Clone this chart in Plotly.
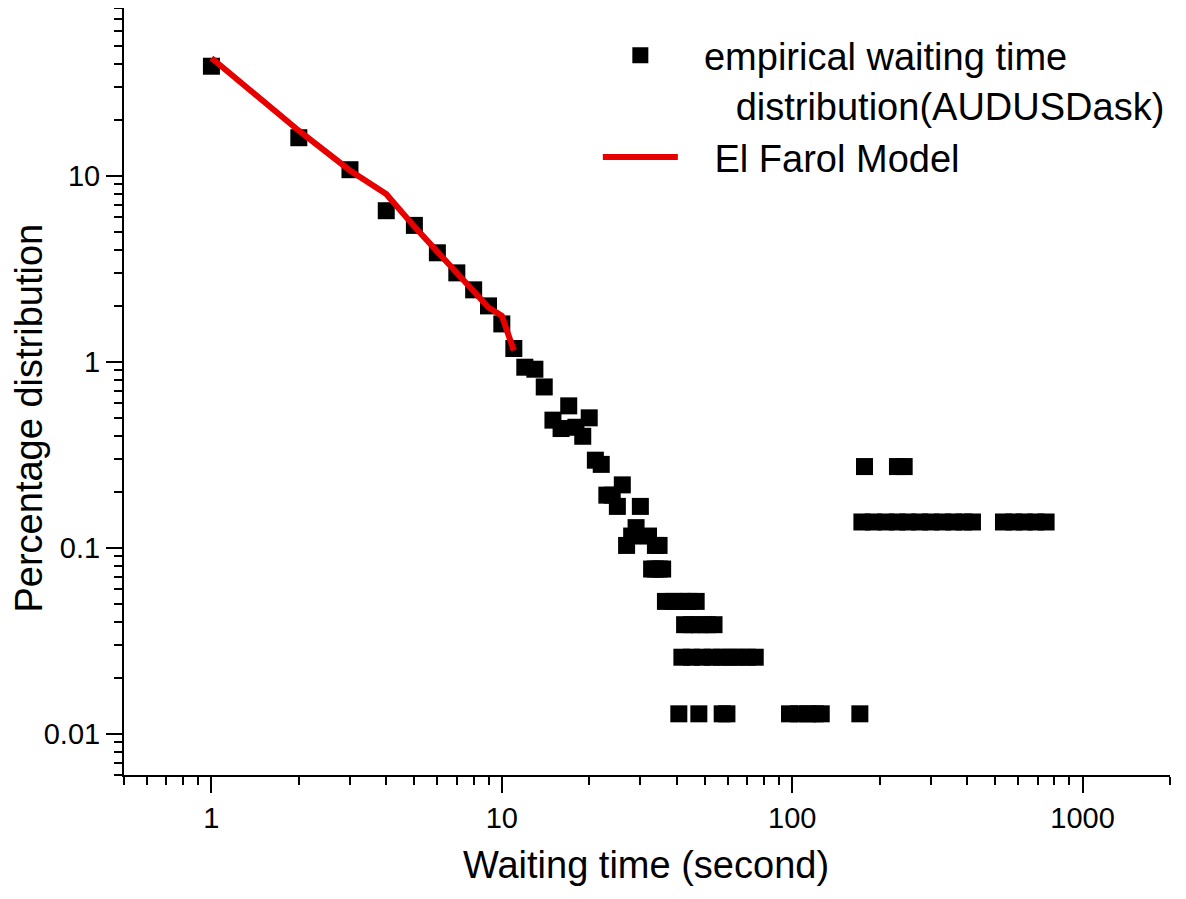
import plotly.graph_objects as go

# ---- data ----
emp_time = [1, 2, 3, 4, 5, 6, 7, 8, 9, 10, 11, 12, 13, 14, 15, 16, 17, 18, 19, 20,
            21, 22, 23, 24, 25, 26, 26.9, 28, 29, 30, 32, 33.8, 34.8,
            32.8, 33.8, 34.8, 35.8,
            36.6, 39, 42, 44, 46.7,
            42.6, 45, 48, 51, 53.8,
            41.7, 45, 49, 53, 57, 61, 65, 70, 74.6,
            40.7, 47.7, 57.4, 59.6, 97.9, 105, 113, 120, 125.9, 171,
            177.4, 230.4, 243,
            173.8, 190, 210, 230, 250, 275, 300, 330, 360, 390, 417.6,
            534, 580, 630, 690, 748.8]
emp_pct = [38.9, 16.05, 10.8, 6.5, 5.42, 3.86, 3.01, 2.44, 2.0, 1.6, 1.18, 0.936, 0.913, 0.733,
           0.486, 0.438, 0.58, 0.445, 0.398, 0.50,
           0.296, 0.281, 0.192, 0.192, 0.167, 0.218, 0.103, 0.1157, 0.1284, 0.167, 0.1157, 0.103, 0.103,
           0.0769, 0.0769, 0.0769, 0.0769,
           0.0515, 0.0515, 0.0515, 0.0515, 0.0515,
           0.0386, 0.0386, 0.0386, 0.0386, 0.0386,
           0.0258, 0.0258, 0.0258, 0.0258, 0.0258, 0.0258, 0.0258, 0.0258, 0.0258,
           0.0128, 0.0128, 0.0128, 0.0128, 0.0128, 0.0128, 0.0128, 0.0128, 0.0128, 0.0128,
           0.2735, 0.2735, 0.2735,
           0.1377, 0.1377, 0.1377, 0.1377, 0.1377, 0.1377, 0.1377, 0.1377, 0.1377, 0.1377, 0.1377,
           0.1377, 0.1377, 0.1377, 0.1377, 0.1377]

model_time = [1, 2, 3, 4, 5, 6, 7, 8, 9, 10, 11]
model_pct = [43.1, 17.5, 10.7, 8.0, 5.34, 3.88, 2.97, 2.35, 1.96, 1.77, 1.15]

x_major = [1, 10, 100, 1000]
x_major_text = ["1", "10", "100", "1000"]
y_major = [0.01, 0.1, 1, 10]
y_major_text = ["0.01", "0.1", "1", "10"]
x_minor = [0.5, 0.6, 0.7, 0.8, 0.9, 2, 3, 4, 5, 6, 7, 8, 9, 20, 30, 40, 50, 60, 70, 80, 90,
           200, 300, 400, 500, 600, 700, 800, 900, 2000]
y_minor = [0.006, 0.007, 0.008, 0.009, 0.02, 0.03, 0.04, 0.05, 0.06, 0.07, 0.08, 0.09,
           0.2, 0.3, 0.4, 0.5, 0.6, 0.7, 0.8, 0.9, 2, 3, 4, 5, 6, 7, 8, 9,
           20, 30, 40, 50, 60, 70, 80]

FONT = "Liberation Sans, Arial, sans-serif"
NB = "\u00a0"

fig = go.Figure()
fig.add_trace(go.Scatter(
    x=emp_time, y=emp_pct, mode="markers",
    name=NB * 2 + "empirical waiting time<br>" + NB * 5 + "distribution(AUDUSDask)",
    marker=dict(symbol="square", size=17, color="black", line=dict(width=0)),
))
fig.add_trace(go.Scatter(
    x=model_time, y=model_pct, mode="lines", name=NB * 3 + "El Farol Model",
    line=dict(color="rgb(230,0,0)", width=6),
))

axis_common = dict(
    type="log", showgrid=False, zeroline=False, showline=True, linecolor="black",
    linewidth=2, ticks="outside", ticklen=16, tickwidth=2, tickcolor="black",
    tickfont=dict(family=FONT, size=29, color="black"), tickmode="array",
    automargin=False,
)
fig.update_xaxes(**axis_common, range=[-0.30103, 3.30103], tickvals=x_major, ticktext=x_major_text,
                 ticklabelstandoff=0,
                 minor=dict(tickmode="array", tickvals=x_minor, ticks="outside", ticklen=8,
                            tickwidth=2, tickcolor="black", showgrid=False))
fig.update_yaxes(**axis_common, range=[-2.2218, 1.9031], tickvals=y_major, ticktext=y_major_text,
                 minor=dict(tickmode="array", tickvals=y_minor, ticks="outside", ticklen=8,
                            tickwidth=2, tickcolor="black", showgrid=False))

fig.update_layout(
    width=1186, height=899,
    margin=dict(l=116, r=24, t=0, b=132),
    paper_bgcolor="white", plot_bgcolor="white",
    font=dict(family=FONT, color="black"),
    showlegend=True,
    legend=dict(x=0.453, y=0.979, xanchor="left", yanchor="top", valign="top",
                font=dict(family=FONT, size=38, color="black"),
                bgcolor="rgba(0,0,0,0)", itemwidth=75, tracegroupgap=0),
    annotations=[
        dict(text="Waiting time (second)", xref="paper", yref="paper",
             x=0.499, y=-0.1173, xanchor="center", yanchor="middle", showarrow=False,
             font=dict(family=FONT, size=38, color="black")),
        dict(text="Percentage distribution", xref="paper", yref="paper",
             x=-0.0908, y=0.4648, xanchor="center", yanchor="middle", showarrow=False,
             textangle=-90, font=dict(family=FONT, size=38, color="black")),
    ],
)

fig.write_html("out.html")
